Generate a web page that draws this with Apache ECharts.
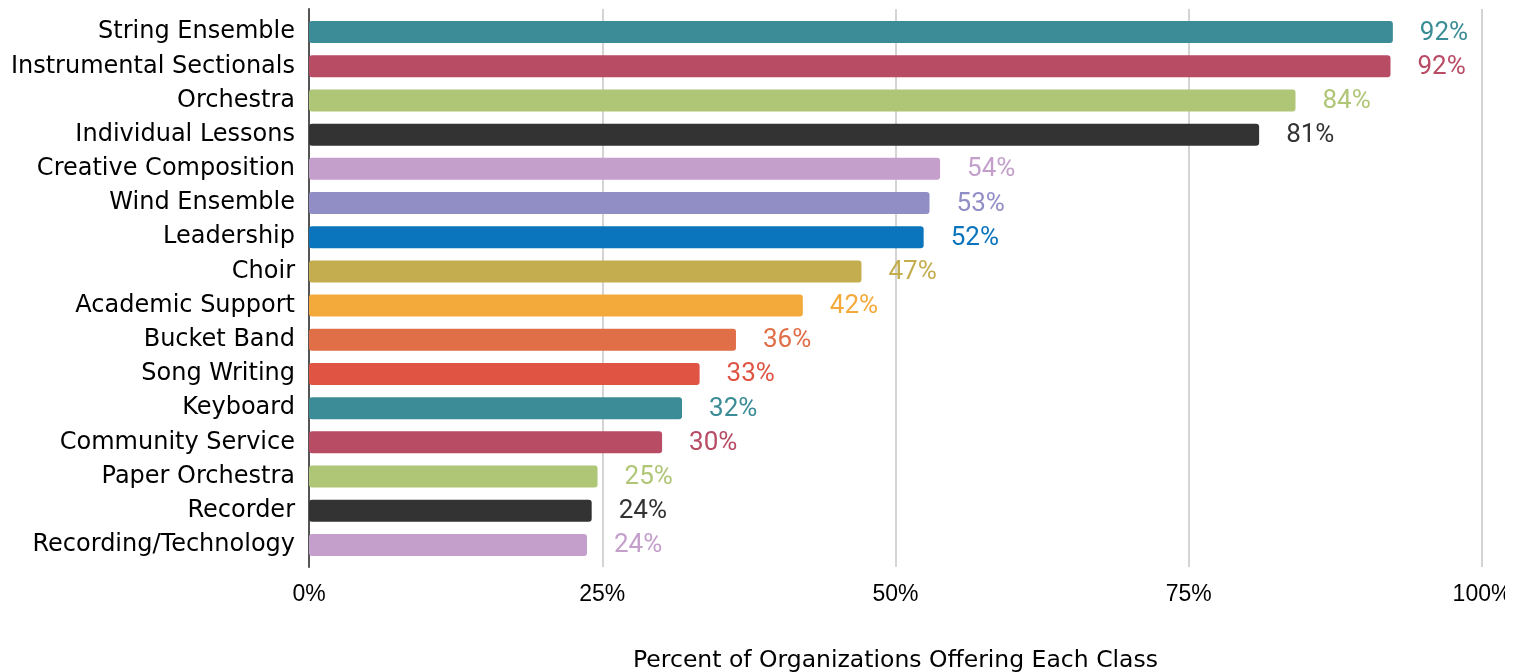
<!DOCTYPE html>
<html>
<head>
<meta charset="utf-8">
<script src="https://cdn.jsdelivr.net/npm/echarts@6/dist/echarts.min.js"></script>
<style>
  html, body { margin: 0; padding: 0; background: #fff; }
  #main { width: 1505px; height: 672px; }
</style>
</head>
<body>
<div id="main"></div>
<script>
  // categories, top to bottom
  const classes = [
    'String Ensemble', 'Instrumental Sectionals', 'Orchestra', 'Individual Lessons',
    'Creative Composition', 'Wind Ensemble', 'Leadership', 'Choir',
    'Academic Support', 'Bucket Band', 'Song Writing', 'Keyboard',
    'Community Service', 'Paper Orchestra', 'Recorder', 'Recording/Technology'
  ];
  // percent of organizations
  const percents = [92.4, 92.2, 84.1, 81.0, 53.8, 52.9, 52.4, 47.1, 42.1, 36.4, 33.3, 31.8, 30.1, 24.6, 24.1, 23.7];
  const barColors = [
    '#3b8c96', '#b84c65', '#b0c677', '#333333', '#c49fcb', '#918ec6', '#0a74bc', '#c3ad4f',
    '#f3aa3a', '#e06e47', '#df5443', '#3b8c96', '#b84c65', '#b0c677', '#333333', '#c49fcb'
  ];
  const xTicks = [0, 25, 50, 75, 100];

  const catFont = 'DejaVu Sans';

  const option = {
    animation: false,
    grid: [
      { left: 309, right: 23, top: 15, height: 547, outerBoundsMode: 'none' },
      { left: 309, right: 23, top: 9, height: 558, outerBoundsMode: 'none' }
    ],
    xAxis: [
      {
        gridIndex: 0, type: 'value', min: 0, max: 100,
        axisLine: { show: false }, axisTick: { show: false },
        axisLabel: { show: false }, splitLine: { show: false }
      },
      {
        gridIndex: 1, type: 'value', min: xTicks[0], max: xTicks[xTicks.length - 1], interval: 25,
        axisLine: { show: false }, axisTick: { show: false },
        axisLabel: {
          formatter: '{value}%', margin: 16,
          fontFamily: 'Liberation Sans', fontSize: 23, color: '#000'
        },
        splitLine: { show: true, lineStyle: { color: '#d4d4d4', width: 2 } },
        name: 'Percent of Organizations Offering Each Class',
        nameLocation: 'middle', nameGap: 82,
        nameTextStyle: { fontFamily: catFont, fontSize: 23.5, color: '#000' }
      }
    ],
    yAxis: [
      {
        gridIndex: 0, type: 'category', data: classes, inverse: true,
        axisLine: { show: false }, axisTick: { show: false },
        axisLabel: { margin: 14, fontFamily: catFont, fontSize: 24, color: '#000' }
      },
      {
        gridIndex: 1, type: 'value', min: 0, max: 1,
        axisLine: { show: true, lineStyle: { color: '#555', width: 2 } },
        axisTick: { show: false }, axisLabel: { show: false }, splitLine: { show: false }
      }
    ],
    series: [
      {
        type: 'bar',
        xAxisIndex: 0, yAxisIndex: 0,
        barWidth: 22,
        data: percents.map((v, i) => ({
          value: v,
          itemStyle: { color: barColors[i], borderRadius: 3 },
          label: { color: barColors[i] }
        })),
        label: {
          show: true, position: 'right', distance: 27,
          fontFamily: 'Roboto', fontSize: 26, offset: [0, 1],
          formatter: p => Math.round(p.value) + '%'
        },
        z: 3
      }
    ]
  };

  const chart = echarts.init(document.getElementById('main'));
  chart.setOption(option);
</script>
</body>
</html>
